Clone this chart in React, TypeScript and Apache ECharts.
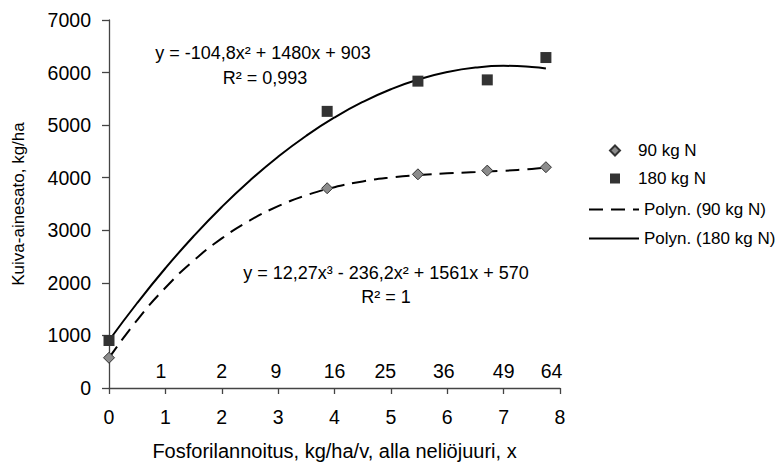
import React, { useEffect, useRef } from "react";
import * as echarts from "echarts";

const FONT = "'Liberation Sans', Arial, sans-serif";

// Observations: x = square root of P dose
const obsX = [0, 3.87, 5.48, 6.71, 7.75];
const n90 = [575, 3800, 4065, 4135, 4200];
const n180 = [904, 5262, 5837, 5861, 6286];

// Trendline curves
const curveX = [0, 0.5, 1, 1.5, 2, 2.5, 3, 3.5, 4, 4.5, 5, 5.5, 6, 6.5, 7, 7.5, 7.75];
const poly90 = [570, 1293, 1907, 2421, 2845, 3188, 3458, 3666, 3820, 3930, 4004, 4052, 4083, 4107, 4132, 4168, 4192];
const poly180 = [903, 1617, 2278, 2887, 3444, 3948, 4400, 4799, 5146, 5441, 5683, 5873, 6010, 6095, 6128, 6108, 6078];

// Dose labels (kg/ha/v) written inside the plot
const doseLabels = ["1", "2", "9", "16", "25", "36", "49", "64"];
const doseX = [0.92, 2.0, 2.96, 4.0, 4.9, 5.94, 7.0, 7.85];
const doseY = 318;

const eq180 = ["y = -104,8x² + 1480x + 903", "R² = 0,993"];
const eq90 = ["y = 12,27x³ - 236,2x² + 1561x + 570", "R² = 1"];

export default function App() {
  const ref = useRef<HTMLDivElement>(null);
  useEffect(() => {
    if (!ref.current) return;
    const chart = echarts.init(ref.current, undefined, { renderer: "svg" });
    const axisColor = "#444";
    const textStyle = { color: "#000", fontFamily: FONT };
    const eqText = (text: string, x: number, y: number) => ({
      type: "text",
      x,
      y,
      style: { text, font: `18px ${FONT}`, fill: "#000", textAlign: "center", textVerticalAlign: "middle" },
    });
    chart.setOption({
      animation: false,
      backgroundColor: "#fff",
      textStyle: { fontFamily: FONT },
      grid: { left: 109, width: 451, top: 20, height: 374, containLabel: false },
      xAxis: {
        type: "value",
        min: 0,
        max: 8,
        interval: 1,
        name: "Fosforilannoitus, kg/ha/v, alla neliöjuuri, x",
        nameLocation: "middle",
        nameGap: 53,
        nameTextStyle: { ...textStyle, fontSize: 20 },
        axisLine: { show: true, lineStyle: { color: axisColor, width: 1.3 } },
        axisTick: { show: true, length: 6, lineStyle: { color: axisColor, width: 1.3 } },
        axisLabel: { ...textStyle, fontSize: 19.5, margin: 19 },
        splitLine: { show: false },
      },
      yAxis: {
        type: "value",
        min: 0,
        max: 7000,
        interval: 1000,
        name: "Kuiva-ainesato, kg/ha",
        nameLocation: "middle",
        nameGap: 82,
        nameRotate: 90,
        nameTextStyle: { ...textStyle, fontSize: 17 },
        axisLine: { show: true, lineStyle: { color: axisColor, width: 1.3 } },
        axisTick: { show: true, length: 7, lineStyle: { color: axisColor, width: 1.3 } },
        axisLabel: { ...textStyle, fontSize: 19.5, margin: 18, formatter: (v: number) => String(v) },
        splitLine: { show: false },
      },
      legend: [
        {
          orient: "vertical",
          left: 604,
          top: 137,
          itemWidth: 10,
          itemHeight: 10,
          itemGap: 11,
          data: ["90 kg N", "180 kg N"],
          itemStyle: { opacity: 1 },
          textStyle: { ...textStyle, fontSize: 17, padding: [0, 0, 0, 13] },
        },
        {
          orient: "vertical",
          left: 583,
          top: 196,
          itemWidth: 50,
          itemHeight: 14,
          itemGap: 12,
          data: ["Polyn. (90 kg N)", "Polyn. (180 kg N)"],
          itemStyle: { color: "rgba(0,0,0,0)", borderColor: "rgba(0,0,0,0)", borderWidth: 0 },
          textStyle: { ...textStyle, fontSize: 17 },
        },
      ],
      series: [
        {
          name: "Polyn. (90 kg N)",
          type: "line",
          smooth: true,
          symbol: "none",
          z: 2,
          lineStyle: { color: "#000", width: 2, type: [14, 8] },
          itemStyle: { color: "#000" },
          data: curveX.map((x, i) => [x, poly90[i]]),
        },
        {
          name: "Polyn. (180 kg N)",
          type: "line",
          smooth: true,
          symbol: "none",
          z: 2,
          lineStyle: { color: "#000", width: 2, type: "solid" },
          itemStyle: { color: "#000" },
          data: curveX.map((x, i) => [x, poly180[i]]),
        },
        {
          name: "90 kg N",
          type: "scatter",
          symbol: "diamond",
          symbolSize: 11,
          z: 5,
          itemStyle: { color: "#8c8c8c", borderColor: "#333", borderWidth: 1, opacity: 1 },
          data: obsX.map((x, i) => [x, n90[i]]),
        },
        {
          name: "180 kg N",
          type: "scatter",
          symbol: "rect",
          symbolSize: 11,
          z: 5,
          itemStyle: { color: "#333", opacity: 1 },
          data: obsX.map((x, i) => [x, n180[i]]),
        },
        {
          name: "dose",
          type: "scatter",
          symbolSize: 0,
          silent: true,
          itemStyle: { color: "rgba(0,0,0,0)", opacity: 1 },
          label: {
            show: true,
            position: "inside",
            formatter: (p: any) => doseLabels[p.dataIndex],
            color: "#000",
            fontFamily: FONT,
            fontSize: 19.5,
          },
          data: doseX.map((x) => [x, doseY]),
        },
      ],
      graphic: [
        eqText(eq180[0], 263, 53),
        eqText(eq180[1], 265, 78),
        eqText(eq90[0], 386, 273),
        eqText(eq90[1], 386, 297),
      ],
    });
    return () => chart.dispose();
  }, []);
  return (
    <div
      ref={ref}
      style={{ position: "fixed", left: 0, top: 0, width: 777, height: 466, background: "#fff" }}
    />
  );
}
